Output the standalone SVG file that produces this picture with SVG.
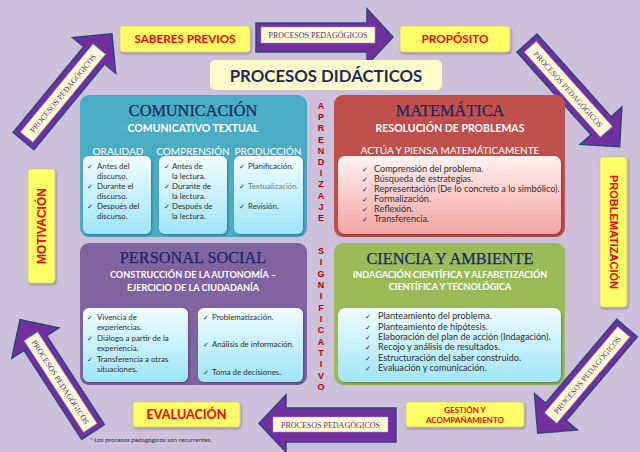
<svg xmlns="http://www.w3.org/2000/svg" width="640" height="452" viewBox="0 0 640 452">
<defs>
<linearGradient id="gc" x1="0" y1="0" x2="0" y2="1"><stop offset="0" stop-color="#f2fcff"/><stop offset="1" stop-color="#9de6f7"/></linearGradient>
<linearGradient id="gp" x1="0" y1="0" x2="0" y2="1"><stop offset="0" stop-color="#fff2f2"/><stop offset="1" stop-color="#f4a2a2"/></linearGradient>
<filter id="sh" x="-10%" y="-10%" width="125%" height="140%"><feDropShadow dx="1" dy="1.5" stdDeviation="1" flood-color="#000" flood-opacity="0.3"/></filter>
</defs>
<style>
.yb{fill:#ffff66;stroke:#cfcf80;stroke-width:.8}
.yt{font-family:Lato,"Liberation Sans",sans-serif;font-weight:bold;fill:#ff0000;text-anchor:middle}
.ya{font-family:"Liberation Sans",Arial,sans-serif;font-weight:bold;fill:#ff0000;text-anchor:middle}
.arr{fill:#7030a0;stroke:#2b4a78;stroke-width:1.5}
.lab{fill:#ffffd6;stroke:#a48fc4;stroke-width:.6}
.lt{font-family:"Liberation Serif",serif;font-size:8px;fill:#5b2b8c;text-anchor:middle}
.ttl{font-family:"Liberation Serif",serif;font-size:16.3px;fill:#1c2868;text-anchor:middle;stroke:#1c2868;stroke-width:.25}
.sub{font-family:Lato,"Liberation Sans",sans-serif;font-weight:bold;font-size:10.5px;fill:#fff;text-anchor:middle}
.sub2{font-family:Lato,"Liberation Sans",sans-serif;font-weight:bold;font-size:9.1px;fill:#fff;text-anchor:middle}
.hd{font-family:Lato,"Liberation Sans",sans-serif;font-size:10px;fill:#fff;text-anchor:middle}
.it{font-family:Lato,"Liberation Sans",sans-serif;font-size:9.1px;fill:#303030}
.is{font-family:Lato,"Liberation Sans",sans-serif;font-size:7.9px;fill:#303030}
.ck{font-family:"DejaVu Sans",sans-serif;font-size:7px;fill:#303030}
.ap{font-family:"Liberation Sans",Arial,sans-serif;font-weight:bold;font-size:9px;fill:#c00000;text-anchor:middle}
</style>
<rect width="640" height="452" fill="#ccc0da"/>

<g id="connectors">
  <g id="arrow-top">
    <path class="arr" d="M256,23 H367 V9 L393,37 L367,65 V52 H256 Z"/>
    <rect class="lab" x="261" y="27" width="114" height="16"/>
    <text class="lt" x="318" y="38">PROCESOS PEDAGÓGICOS</text>
  </g>
  <g id="arrow-upper-right" transform="translate(527,43) rotate(48.2)">
    <path class="arr" d="M0,-13.5 H111 V-28 L139,0 L111,28 V13.5 H0 Z"/>
    <rect class="lab" x="5" y="-8" width="114" height="16"/>
    <text class="lt" x="62" y="3">PROCESOS PEDAGÓGICOS</text>
  </g>
  <g id="arrow-lower-right" transform="translate(627,328) rotate(130.3)">
    <path class="arr" d="M0,-13.5 H110 V-28 L138,0 L110,28 V13.5 H0 Z"/>
    <rect class="lab" x="5" y="-8" width="113" height="16"/>
    <text class="lt" transform="translate(61.5,0) rotate(180)" y="3">PROCESOS PEDAGÓGICOS</text>
  </g>
  <g id="arrow-bottom">
    <path class="arr" d="M396,408 H286 V395 L259,423.5 L286,452 V442 H396 Z"/>
    <rect class="lab" x="273" y="417" width="115" height="15"/>
    <text class="lt" x="330.5" y="427.5">PROCESOS PEDAGÓGICOS</text>
  </g>
  <g id="arrow-lower-left" transform="translate(93,432) rotate(-123)">
    <path class="arr" d="M0,-13.5 H106 V-28 L134,0 L106,28 V13.5 H0 Z"/>
    <rect class="lab" x="5" y="-8" width="109" height="16"/>
    <text class="lt" transform="translate(59.5,0) rotate(180)" y="3">PROCESOS PEDAGÓGICOS</text>
  </g>
  <g id="arrow-upper-left" transform="translate(23.5,141) rotate(-50.5)">
    <path class="arr" d="M0,-13.5 H111 V-28 L139,0 L111,28 V13.5 H0 Z"/>
    <rect class="lab" x="5" y="-8" width="114" height="16"/>
    <text class="lt" x="62" y="3">PROCESOS PEDAGÓGICOS</text>
  </g>
</g>

<g id="saberes-previos">
  <rect class="yb" x="120" y="26" width="130" height="26" rx="3" filter="url(#sh)"/>
  <text class="yt" x="185" y="43" font-size="11.7">SABERES PREVIOS</text>
</g>
<g id="proposito">
  <rect class="yb" x="400" y="26" width="110" height="26" rx="3" filter="url(#sh)"/>
  <text class="yt" x="455" y="43" font-size="11.7">PROPÓSITO</text>
</g>
<g id="problematizacion">
  <rect class="yb" x="600" y="157" width="27" height="150" rx="3" filter="url(#sh)"/>
  <text class="ya" transform="translate(609.5,232) rotate(90)" font-size="11">PROBLEMATIZACIÓN</text>
</g>
<g id="gestion">
  <rect class="yb" x="406" y="402" width="118" height="25" rx="3" filter="url(#sh)"/>
  <text class="yt" x="465" y="413" font-size="8">GESTIÓN Y</text>
  <text class="yt" x="465" y="423" font-size="8">ACOMPAÑAMIENTO</text>
</g>
<g id="evaluacion">
  <rect class="yb" x="133" y="402" width="107" height="25" rx="3" filter="url(#sh)"/>
  <text class="yt" x="186.5" y="419" font-size="12.6">EVALUACIÓN</text>
</g>
<g id="motivacion">
  <rect class="yb" x="28" y="169" width="27" height="114" rx="3" filter="url(#sh)"/>
  <text class="ya" transform="translate(46,226) rotate(-90)" font-size="12">MOTIVACIÓN</text>
</g>

<g id="procesos-didacticos">
  <rect x="210" y="60" width="232" height="30" rx="5" fill="#ffffcc"/>
  <text x="326" y="81.5" font-family="Lato,'Liberation Sans',sans-serif" font-weight="bold" font-size="16.8" fill="#1f2a5c" text-anchor="middle">PROCESOS DIDÁCTICOS</text>
</g>

<g id="comunicacion">
  <rect x="80" y="95" width="227" height="142" rx="9" fill="#4bacc6"/>
  <text class="ttl" x="193" y="116">COMUNICACIÓN</text>
  <text class="sub" x="193" y="132">COMUNICATIVO TEXTUAL</text>
  <text class="hd" x="118" y="155">ORALIDAD</text>
  <text class="hd" x="193" y="155">COMPRENSIÓN</text>
  <text class="hd" x="268" y="155">PRODUCCIÓN</text>
  <rect x="83" y="156" width="68" height="78" rx="6" fill="url(#gc)" filter="url(#sh)"/>
  <rect x="159" y="156" width="68" height="78" rx="6" fill="url(#gc)" filter="url(#sh)"/>
  <rect x="234" y="156" width="69" height="78" rx="6" fill="url(#gc)" filter="url(#sh)"/>
  <text class="ck" x="87" y="169">✓</text><text class="ck" x="87" y="189">✓</text><text class="ck" x="87" y="209">✓</text>
  <text class="is" x="97" y="169">Antes del</text><text class="is" x="97" y="179">discurso.</text>
  <text class="is" x="97" y="189">Durante el</text><text class="is" x="97" y="199">discurso.</text>
  <text class="is" x="97" y="209">Después del</text><text class="is" x="97" y="219">discurso.</text>
  <text class="ck" x="164" y="169">✓</text><text class="ck" x="164" y="189">✓</text><text class="ck" x="164" y="209">✓</text>
  <text class="is" x="172" y="169">Antes de</text><text class="is" x="172" y="179">la lectura.</text>
  <text class="is" x="172" y="189">Durante de</text><text class="is" x="172" y="199">la lectura.</text>
  <text class="is" x="172" y="209">Después de</text><text class="is" x="172" y="219">la lectura.</text>
  <text class="ck" x="239" y="169">✓</text><text class="ck" x="239" y="189">✓</text><text class="ck" x="239" y="209">✓</text>
  <text class="is" x="248" y="169">Planificación.</text>
  <text class="is" x="248" y="189" style="fill:#808080">Textualización.</text>
  <text class="is" x="248" y="209">Revisión.</text>
</g>

<g id="matematica">
  <rect x="334" y="95" width="231" height="142" rx="9" fill="#c0504d"/>
  <text class="ttl" x="450" y="116">MATEMÁTICA</text>
  <text class="sub" x="450" y="132">RESOLUCIÓN DE PROBLEMAS</text>
  <text class="hd" x="450" y="154">ACTÚA Y PIENSA MATEMÁTICAMENTE</text>
  <rect x="338" y="156" width="223" height="78" rx="7" fill="url(#gp)" filter="url(#sh)"/>
  <text class="ck" x="362" y="172">✓</text><text class="it" x="374" y="172">Comprensión del problema.</text>
  <text class="ck" x="362" y="182">✓</text><text class="it" x="374" y="182">Búsqueda de estrategias.</text>
  <text class="ck" x="362" y="192">✓</text><text class="it" x="374" y="192">Representación (De lo concreto a lo simbólico).</text>
  <text class="ck" x="362" y="202">✓</text><text class="it" x="374" y="202">Formalización.</text>
  <text class="ck" x="362" y="212">✓</text><text class="it" x="374" y="212">Reflexión.</text>
  <text class="ck" x="362" y="222">✓</text><text class="it" x="374" y="222">Transferencia.</text>
</g>

<g id="personal-social">
  <rect x="80" y="243" width="227" height="142" rx="9" fill="#8064a2"/>
  <text class="ttl" x="193" y="263">PERSONAL SOCIAL</text>
  <text class="sub2" x="193" y="278">CONSTRUCCIÓN DE LA AUTONOMÍA –</text>
  <text class="sub2" x="193" y="291">EJERCICIO DE LA CIUDADANÍA</text>
  <rect x="83" y="308" width="105" height="74" rx="6" fill="url(#gc)" filter="url(#sh)"/>
  <rect x="198" y="308" width="105" height="74" rx="6" fill="url(#gc)" filter="url(#sh)"/>
  <text class="ck" x="87" y="320">✓</text><text class="ck" x="87" y="341">✓</text><text class="ck" x="87" y="362">✓</text>
  <text class="is" x="97" y="320">Vivencia de</text><text class="is" x="97" y="330">experiencias.</text>
  <text class="is" x="97" y="341">Diálogo a partir de la</text><text class="is" x="97" y="351">experiencia.</text>
  <text class="is" x="97" y="362">Transferencia a otras</text><text class="is" x="97" y="372">situaciones.</text>
  <text class="ck" x="203" y="320">✓</text><text class="is" x="212" y="320">Problematización.</text>
  <text class="ck" x="203" y="347">✓</text><text class="is" x="212" y="347">Análisis de información.</text>
  <text class="ck" x="203" y="375">✓</text><text class="is" x="212" y="375">Toma de decisiones.</text>
</g>

<g id="ciencia-ambiente">
  <rect x="334" y="243" width="231" height="142" rx="9" fill="#9bbb59"/>
  <text class="ttl" x="450" y="264">CIENCIA Y AMBIENTE</text>
  <text class="sub2" x="450" y="278">INDAGACIÓN CIENTÍFICA Y ALFABETIZACIÓN</text>
  <text class="sub2" x="450" y="290">CIENTÍFICA Y TECNOLÓGICA</text>
  <rect x="338" y="308" width="223" height="74" rx="7" fill="url(#gc)" filter="url(#sh)"/>
  <text class="ck" x="365" y="319">✓</text><text class="it" x="378" y="319">Planteamiento del problema.</text>
  <text class="ck" x="365" y="329.5">✓</text><text class="it" x="378" y="329.5">Planteamiento de hipótesis.</text>
  <text class="ck" x="365" y="340">✓</text><text class="it" x="378" y="340">Elaboración del plan de acción (Indagación).</text>
  <text class="ck" x="365" y="350">✓</text><text class="it" x="378" y="350">Recojo y análisis de resultados.</text>
  <text class="ck" x="365" y="360.5">✓</text><text class="it" x="378" y="360.5">Estructuración del saber construido.</text>
  <text class="ck" x="365" y="371">✓</text><text class="it" x="378" y="371">Evaluación y comunicación.</text>
</g>

<g id="aprendizaje-significativo">
  <text class="ap" x="321" y="109">A</text><text class="ap" x="321" y="120.2">P</text><text class="ap" x="321" y="131.4">R</text><text class="ap" x="321" y="142.6">E</text><text class="ap" x="321" y="153.8">N</text><text class="ap" x="321" y="165">D</text><text class="ap" x="321" y="176.2">I</text><text class="ap" x="321" y="187.4">Z</text><text class="ap" x="321" y="198.6">A</text><text class="ap" x="321" y="209.8">J</text><text class="ap" x="321" y="221">E</text>
  <text class="ap" x="321" y="254">S</text><text class="ap" x="321" y="265.3">I</text><text class="ap" x="321" y="276.7">G</text><text class="ap" x="321" y="288">N</text><text class="ap" x="321" y="299.3">I</text><text class="ap" x="321" y="310.7">F</text><text class="ap" x="321" y="322">I</text><text class="ap" x="321" y="333.3">C</text><text class="ap" x="321" y="344.7">A</text><text class="ap" x="321" y="356">T</text><text class="ap" x="321" y="367.3">I</text><text class="ap" x="321" y="378.7">V</text><text class="ap" x="321" y="390">O</text>
</g>

<text id="footnote" x="90" y="442" font-family="Lato,'Liberation Sans',sans-serif" font-size="6.3" fill="#333">* Los procesos pedagógicos son recurrentes.</text>
</svg>
